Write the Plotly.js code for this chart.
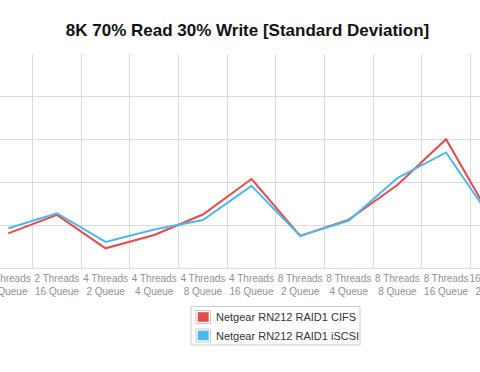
<!DOCTYPE html>
<html>
<head>
<meta charset="utf-8">
<script src="https://cdn.plot.ly/plotly-3.0.1.min.js"></script>
<style>
  html, body { margin: 0; padding: 0; width: 480px; height: 372px; overflow: hidden; background: #fff; }
  #chart { position: absolute; left: -40px; top: 0; width: 580px; height: 372px; }
</style>
</head>
<body>
<div id="chart"></div>
<script>
// ---- data ----
var categories = [
  "2 Threads<br>8 Queue", "2 Threads<br>16 Queue",
  "4 Threads<br>2 Queue", "4 Threads<br>4 Queue", "4 Threads<br>8 Queue", "4 Threads<br>16 Queue",
  "8 Threads<br>2 Queue", "8 Threads<br>4 Queue", "8 Threads<br>8 Queue", "8 Threads<br>16 Queue",
  "16 Threads<br>2 Queue"
];
var cifsValues  = [0.81, 1.24, 0.46, 0.77, 1.25, 2.08, 0.75, 1.13, 1.94, 3.01, 1.03];
var iscsiValues = [0.93, 1.28, 0.61, 0.90, 1.12, 1.92, 0.75, 1.11, 2.10, 2.70, 1.04];
var seriesNames = ["Netgear RN212 RAID1 CIFS", "Netgear RN212 RAID1 iSCSI"];
var seriesColors = ["#e84a4a", "#4bb9ec"];
var titleText = "8K 70% Read 30% Write [Standard Deviation]";

// ---- geometry helpers (window pixel -> paper) ----
var DIV_LEFT = -40, ML = 24, MR = 21, MT = 54, MB = 104, W = 580, H = 372;
var PW = W - ML - MR, PH = H - MT - MB;
function px(wx) { return (wx - DIV_LEFT - ML) / PW; }
function py(wy) { return (H - MB - wy) / PH; }

var traces = [
  { x: categories, y: cifsValues, name: seriesNames[0], type: "scatter", mode: "lines",
    line: { color: seriesColors[0], width: 2 }, showlegend: false },
  { x: categories, y: iscsiValues, name: seriesNames[1], type: "scatter", mode: "lines",
    line: { color: seriesColors[1], width: 2 }, showlegend: false }
];

var shapes = [
  { type: "rect", xref: "paper", yref: "paper", x0: px(191), x1: px(360), y0: py(306.5), y1: py(345),
    line: { color: "#cccccc", width: 1 }, fillcolor: "rgba(0,0,0,0)" }
];
var annotations = [];
var rowsY = [317, 335.5];
for (var i = 0; i < seriesNames.length; i++) {
  var cy = rowsY[i];
  shapes.push({ type: "rect", xref: "paper", yref: "paper", x0: px(196), x1: px(210.5), y0: py(cy - 6.5), y1: py(cy + 6.5),
    line: { color: "#c8c8c8", width: 1 }, fillcolor: "#ffffff" });
  shapes.push({ type: "rect", xref: "paper", yref: "paper", x0: px(197.8), x1: px(208.7), y0: py(cy - 4.8), y1: py(cy + 4.8),
    line: { width: 0 }, fillcolor: seriesColors[i] });
  annotations.push({ xref: "paper", yref: "paper", x: px(214), y: py(cy), xanchor: "left", yanchor: "middle",
    text: seriesNames[i], showarrow: false, font: { family: "Liberation Sans, Arial, sans-serif", size: 11, color: "#333333" } });
}

var layout = {
  width: W, height: H,
  margin: { l: ML, r: MR, t: MT, b: MB, pad: 0 },
  paper_bgcolor: "#ffffff", plot_bgcolor: "#ffffff",
  title: { text: "<b>" + titleText + "</b>", xref: "container", yref: "container",
    x: (247.5 - DIV_LEFT) / W, y: 1 - 30 / H, xanchor: "center", yanchor: "middle",
    font: { family: "Liberation Sans, Arial, sans-serif", size: 17, color: "#111111" } },
  xaxis: { type: "category", range: [-0.5, categories.length - 0.5], tickson: "boundaries",
    tickangle: 0, automargin: false, ticklabelstandoff: 3,
    showgrid: true, gridcolor: "#dcdcdc", gridwidth: 1, ticks: "", showline: false, zeroline: false,
    tickfont: { family: "Liberation Sans, Arial, sans-serif", size: 10, color: "#909090" }, fixedrange: true },
  yaxis: { range: [0, 5], dtick: 1, tick0: 0, showgrid: true, gridcolor: "#dcdcdc", gridwidth: 1,
    zeroline: true, zerolinecolor: "#dcdcdc", zerolinewidth: 1, showticklabels: false, ticks: "", fixedrange: true },
  showlegend: false,
  shapes: shapes,
  annotations: annotations
};

Plotly.newPlot("chart", traces, layout, { displayModeBar: false, staticPlot: true });
</script>
</body>
</html>
